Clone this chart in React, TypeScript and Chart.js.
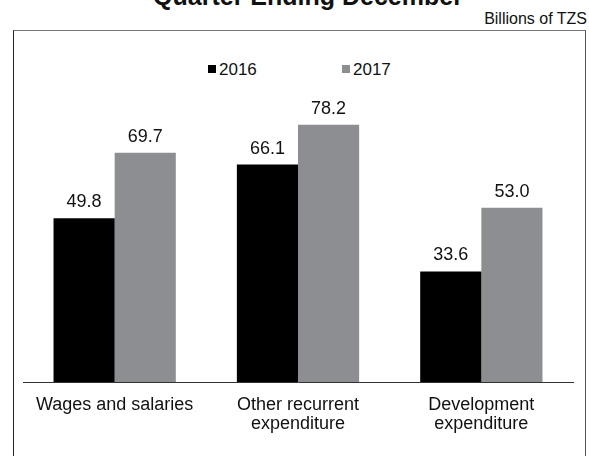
import React, { useEffect, useRef } from "react";
import { Chart, registerables } from "chart.js";

Chart.register(...registerables);

const categories: string[][] = [
  ["Wages and salaries"],
  ["Other recurrent", "expenditure"],
  ["Development", "expenditure"],
];
const series2016: number[] = [49.8, 66.1, 33.6];
const series2017: number[] = [69.7, 78.2, 53.0];
const seriesNames: string[] = ["2016", "2017"];
const chartTitle = "Quarter Ending December";
const unitLabel = "Billions of TZS";

const COLOR_2016 = "#000000";
const COLOR_2017 = "#8D8E92";
const FONT = "'Liberation Sans', Arial, Helvetica, sans-serif";

const valueLabels = {
  id: "valueLabels",
  afterDatasetsDraw(chart: any) {
    const ctx = chart.ctx;
    ctx.save();
    ctx.font = `18px ${FONT}`;
    ctx.fillStyle = "#111";
    ctx.textAlign = "center";
    ctx.textBaseline = "alphabetic";
    chart.data.datasets.forEach((ds: any, i: number) => {
      const meta = chart.getDatasetMeta(i);
      meta.data.forEach((bar: any, j: number) => {
        const v = ds.data[j] as number;
        ctx.fillText(v.toFixed(1), bar.x, bar.y - 11);
      });
    });
    ctx.restore();
  },
};

export default function App() {
  const ref = useRef<HTMLCanvasElement | null>(null);

  useEffect(() => {
    if (!ref.current) return;
    const chart = new Chart(ref.current, {
      type: "bar",
      data: {
        labels: categories,
        datasets: [
          {
            label: seriesNames[0],
            data: series2016,
            backgroundColor: COLOR_2016,
            barPercentage: 1,
            categoryPercentage: 0.667,
          },
          {
            label: seriesNames[1],
            data: series2017,
            backgroundColor: COLOR_2017,
            barPercentage: 1,
            categoryPercentage: 0.667,
          },
        ],
      },
      options: {
        responsive: false,
        animation: false,
        layout: { padding: { left: 9, right: 12, top: 55, bottom: 0 } },
        plugins: {
          legend: { display: false },
          title: { display: false },
          tooltip: { enabled: false },
        },
        scales: {
          x: {
            grid: { display: false, drawTicks: false },
            border: { display: true, color: "#333", width: 1 },
            ticks: {
              color: "#111",
              padding: 14,
              font: { family: FONT, size: 18, lineHeight: 1.02 },
              maxRotation: 0,
              autoSkip: false,
            },
            afterFit(scale: any) {
              scale.height = 74;
            },
          },
          y: {
            display: false,
            min: 0,
            max: 90,
          },
        },
      },
      plugins: [valueLabels],
    });
    return () => chart.destroy();
  }, []);

  const legendText: React.CSSProperties = {
    position: "absolute",
    fontFamily: FONT,
    fontSize: 17,
    lineHeight: "17px",
    color: "#111",
    whiteSpace: "nowrap",
  };

  return (
    <div
      style={{
        position: "fixed",
        left: 0,
        top: 0,
        width: 589,
        height: 456,
        overflow: "hidden",
        background: "#fff",
      }}
    >
      <div
        style={{
          position: "absolute",
          left: 0,
          top: -16,
          width: 616,
          textAlign: "center",
          fontFamily: FONT,
          fontWeight: "bold",
          fontSize: 25,
          lineHeight: "25px",
          color: "#111",
          whiteSpace: "nowrap",
        }}
      >
        {chartTitle}
      </div>
      <div
        style={{
          position: "absolute",
          right: 2,
          top: 10.5,
          fontFamily: FONT,
          fontSize: 16,
          lineHeight: "16px",
          color: "#111",
          whiteSpace: "nowrap",
        }}
      >
        {unitLabel}
      </div>
      <div
        style={{
          position: "absolute",
          left: 13,
          top: 30,
          width: 571,
          height: 500,
          borderTop: "1px solid #777",
          borderLeft: "1px solid #222",
          borderRight: "1px solid #555",
        }}
      />
      <div style={{ position: "absolute", left: 208, top: 65, width: 8, height: 8, background: COLOR_2016 }} />
      <div style={{ ...legendText, left: 219, top: 60.6 }}>{seriesNames[0]}</div>
      <div style={{ position: "absolute", left: 342, top: 65, width: 8, height: 8, background: COLOR_2017 }} />
      <div style={{ ...legendText, left: 353, top: 60.6 }}>{seriesNames[1]}</div>
      <canvas
        ref={ref}
        width={571}
        height={425}
        style={{ position: "absolute", left: 14, top: 31, width: 571, height: 425 }}
      />
    </div>
  );
}
